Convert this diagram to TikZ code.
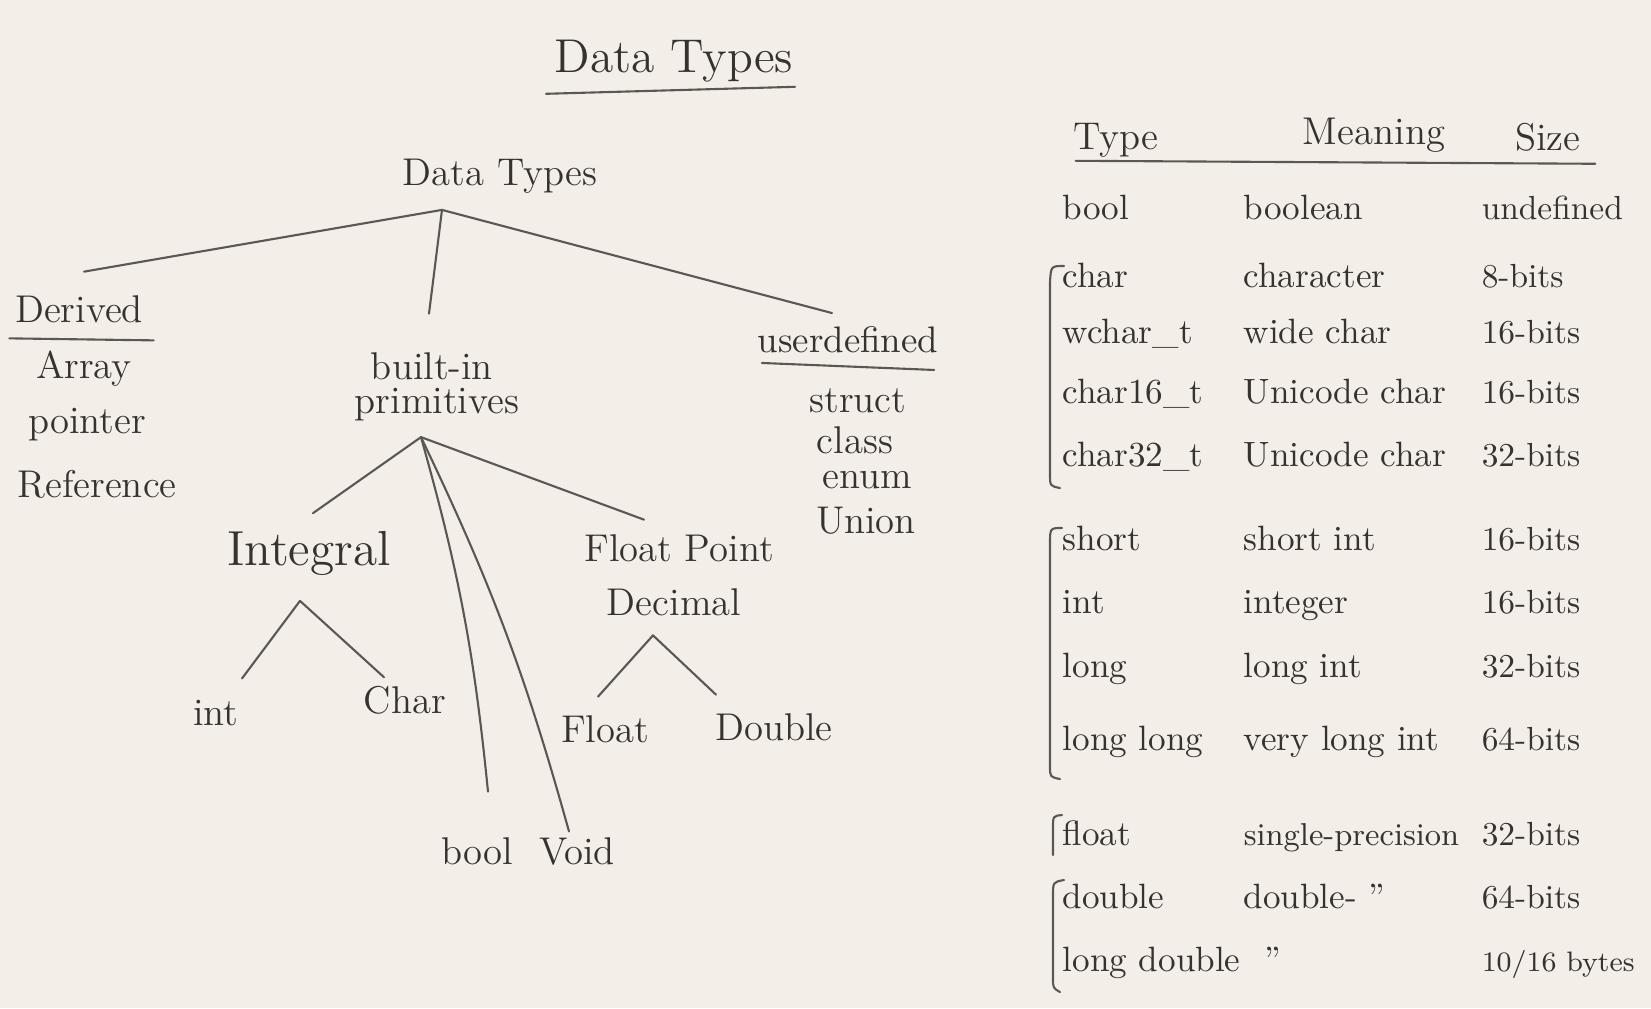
\documentclass[tikz,border=0pt]{standalone}
\usepackage{tikz}
\definecolor{board}{HTML}{F3EFE8}
\definecolor{ink}{HTML}{36332F}
\definecolor{pen}{HTML}{5B5752}

\begin{document}
\begin{tikzpicture}[x=0.01cm, y=-0.01cm,
    every node/.style={font=\fontsize{11}{13}\selectfont, text=ink, inner sep=2pt},
    stroke/.style={draw=pen, line width=0.6pt, line cap=round},
    cell/.style={anchor=west, font=\fontsize{10}{12}\selectfont, text height=1.6ex, text depth=.5ex}]
  \fill[board] (0,0) rectangle (1651,1008);
  \useasboundingbox (0,0) rectangle (1651,1008);

  % title
  \node[font=\fontsize{13.5}{16}\selectfont] (title) at (674,61) {Data Types};
  \draw[stroke] ([shift={(-1,4)}]title.south west) -- ([shift={(-6,-3)}]title.south east);

  % tree
  \node (root) at (500,176) {Data Types};
  \node (derived) at (79,309) {Derived};
  \node (array) at (84,369) {Array};
  \node (pointer) at (87,425) {pointer};
  \node (reference) at (97,484) {Reference};
  \node (builtin) at (432,366) {built-in};
  \node (prim) at (437,405) {primitives};
  \node[font=\fontsize{10.5}{12}\selectfont] (user) at (848,340) {userdefined};
  \node (struct) at (858,401) {struct};
  \node (class) at (855,440) {class};
  \node (enum) at (867,480) {enum};
  \node (union) at (866,521) {Union};
  \node[font=\fontsize{14}{16}\selectfont] (integral) at (309,553) {Integral};
  \node (fpoint) at (679,548) {Float Point};
  \node (decimal) at (674,602) {Decimal};
  \node (int) at (216,713) {int};
  \node (char) at (405,700) {Char};
  \node (float) at (605,729) {Float};
  \node (double) at (774,727) {Double};
  \node (bool) at (477,851) {bool};
  \node (void) at (577,851) {Void};

  \draw[stroke] ([shift={(2,8)}]derived.south west) -- ([shift={(3,10)}]derived.south east);
  \draw[stroke] ([shift={(12,2)}]user.south west) -- ([shift={(-12,9)}]user.south east);

  \coordinate (rhub) at ([shift={(-58,9)}]root.south);
  \coordinate (bhub) at ([shift={(-16,8)}]prim.south);
  \coordinate (ihub) at ([shift={(-9,18)}]integral.south);
  \coordinate (dhub) at ([shift={(-21,12)}]decimal.south);

  \foreach \n/\dx/\dy in {derived/5/-16, builtin/-3/-31, user/-16/-6}
    {\draw[stroke] (rhub) -- ([shift={(\dx,\dy)}]\n.north);}
  \foreach \n/\dx/\dy in {integral/4/-10, fpoint/-35/-7}
    {\draw[stroke] (bhub) -- ([shift={(\dx,\dy)}]\n.north);}
  \foreach \n/\dx/\dy in {bool/11/-38, void/-8/2}
    {\draw[stroke] (bhub) to[bend left=5] ([shift={(\dx,\dy)}]\n.north);}
  \foreach \n/\dx/\dy in {int/26/-14, char/-21/-1}
    {\draw[stroke] (ihub) -- ([shift={(\dx,\dy)}]\n.north);}
  \foreach \n/\dx/\dy in {float/-7/-11, double/-58/-11}
    {\draw[stroke] (dhub) -- ([shift={(\dx,\dy)}]\n.north);}

  % table
  \node (htype) at (1116,140) {Type};
  \node (hmeaning) at (1374,135) {Meaning};
  \node (hsize) at (1548,137) {Size};
  \draw[stroke] ([shift={(10,-4)}]htype.south west) -- ([shift={(7,5)}]hsize.south east);

  \foreach \y/\t/\m/\s [count=\i] in {211/bool/boolean/undefined, 279/char/character/8-bits,
      335/wchar\_t/wide char/16-bits, 395/char16\_t/Unicode char/16-bits,
      458/char32\_t/Unicode char/32-bits, 542/short/short int/16-bits,
      605/int/integer/16-bits, 669/long/long int/32-bits,
      742/long long/very long int/64-bits, 837/float/\small single-precision/32-bits,
      900/double/double- ''/64-bits, 963/long double/\hspace{6pt}''/{\footnotesize 10/16 bytes}}
  {
    \node[cell] (t\i) at (1055,\y) {\t};
    \node[cell] (m\i) at (1236,\y) {\m};
    \node[cell, font=\fontsize{9.5}{11}\selectfont] (s\i) at (1474,\y) {\s};
  }

  % brackets
  \draw[stroke] (1064,266) .. controls (1051,266) .. (1050,282) -- (1050,474) .. controls (1050,486) .. (1060,488);
  \draw[stroke] (1062,528) .. controls (1050,528) .. (1050,544) -- (1050,766) .. controls (1050,777) .. (1060,779);
  \draw[stroke] (1062,815) .. controls (1053,816) .. (1053,828) -- (1053,855);
  \draw[stroke] (1064,880) .. controls (1053,882) .. (1053,896) -- (1053,978) .. controls (1053,988) .. (1060,992);
\end{tikzpicture}
\end{document}
